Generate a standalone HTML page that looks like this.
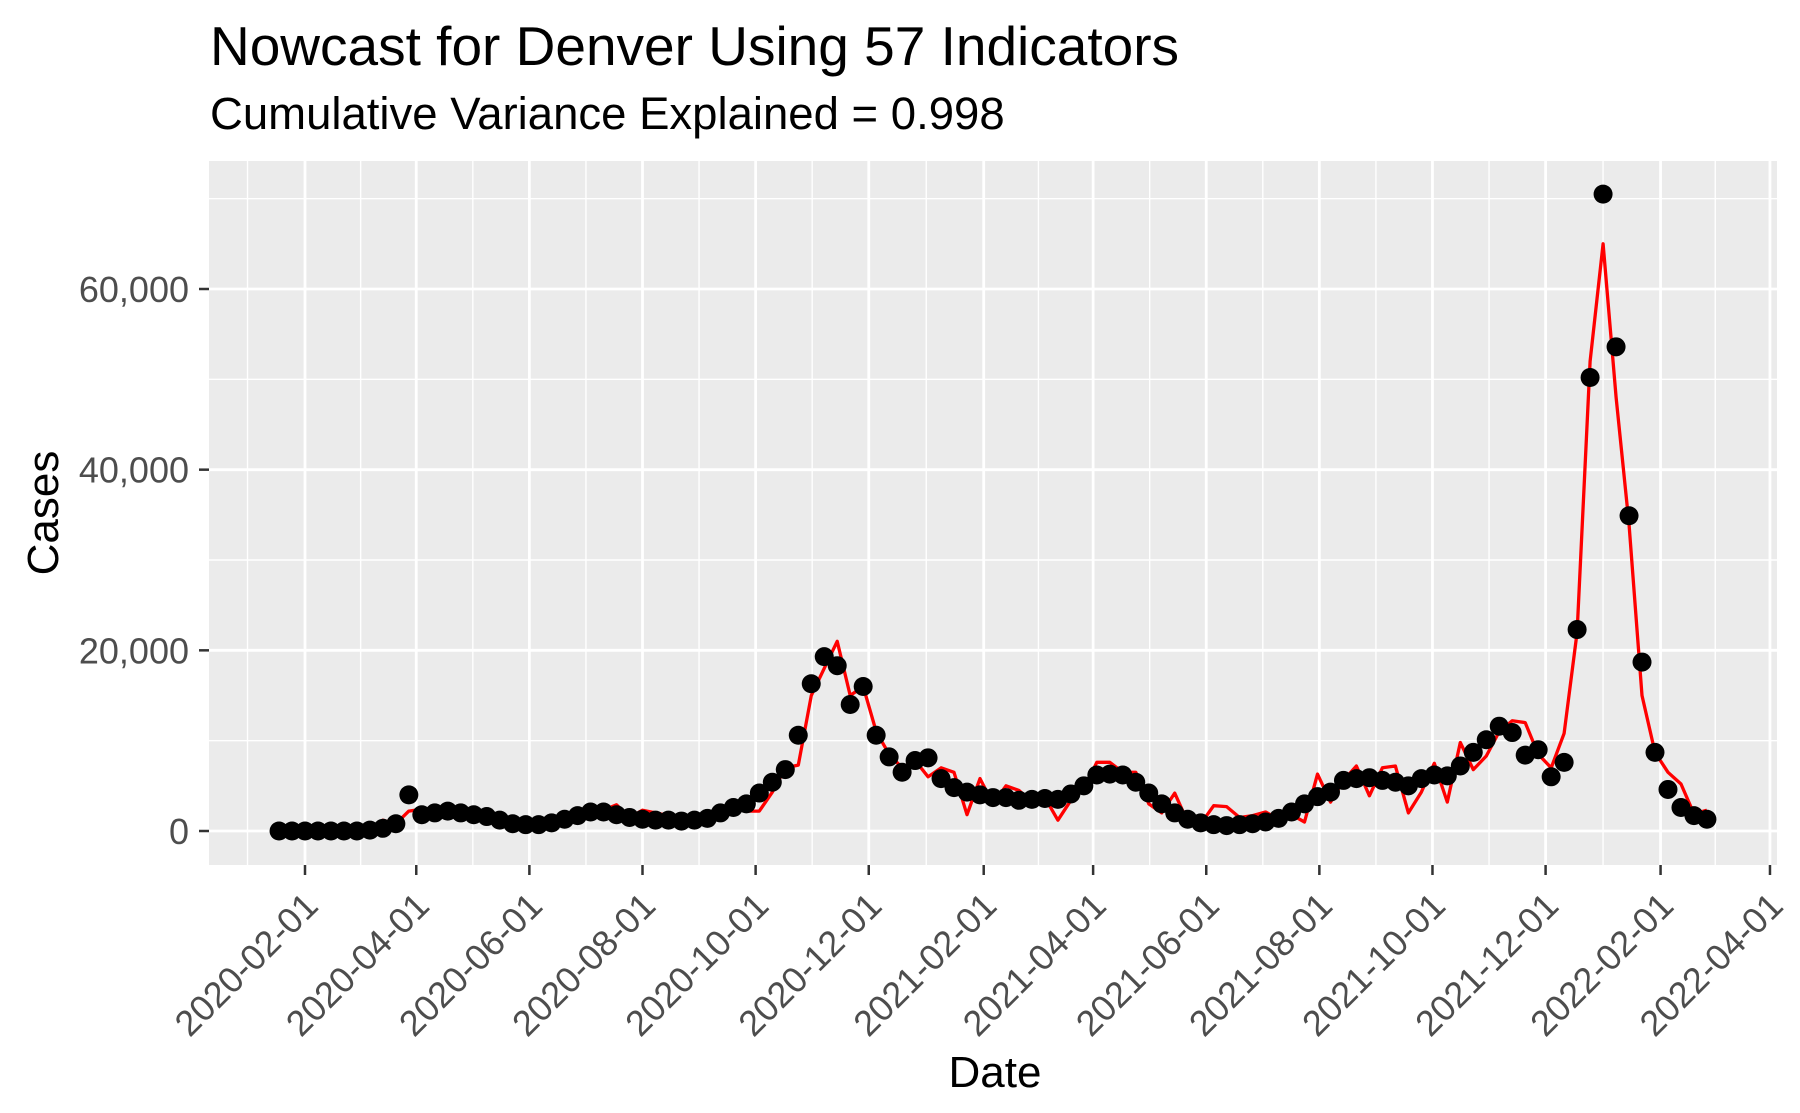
<!DOCTYPE html>
<html><head><meta charset="utf-8"><style>
html,body{margin:0;padding:0;background:#fff;}
svg{display:block;font-family:"Liberation Sans",Arial,sans-serif;}
</style></head><body>
<svg id="chart" width="1800" height="1113" viewBox="0 0 1800 1113" xmlns="http://www.w3.org/2000/svg">
<rect width="1800" height="1113" fill="#fff"/>
<text x="210" y="65" font-size="55" fill="#000">Nowcast for Denver Using 57 Indicators</text>
<text x="210" y="129" font-size="45.5" fill="#000">Cumulative Variance Explained = 0.998</text>
<rect x="209" y="161" width="1568" height="704" fill="#ebebeb"/>
<g id="grid"></g>
<g id="axes"></g>
<g id="series"></g>
<text transform="translate(58,513) rotate(-90)" text-anchor="middle" font-size="44" fill="#000">Cases</text>
<text x="995" y="1087" text-anchor="middle" font-size="44" fill="#000">Date</text>
</svg>
<script>
const startDate = "2020-01-18";
const observed = [0,0,0,0,0,0,0,100,300,800,4000,1800,2000,2200,2000,1800,1600,1200,800,700,700,900,1300,1700,2100,2100,1800,1500,1300,1200,1200,1100,1200,1400,2000,2600,3000,4200,5400,6800,10600,16300,19300,18300,14000,16000,10600,8200,6500,7800,8100,5800,4800,4300,4000,3700,3700,3400,3500,3600,3500,4100,5000,6200,6300,6200,5400,4200,3000,2000,1300,900,700,600,700,800,1000,1400,2100,3000,3800,4300,5600,5800,5900,5600,5400,5000,5800,6200,6100,7200,8700,10100,11600,10900,8400,9000,6000,7600,22300,50200,70500,53600,34900,18700,8700,4600,2600,1700,1300];
const nowcast = [0,0,0,0,0,0,0,300,1200,800,2200,2400,2000,2100,1900,1700,1600,1400,1200,900,800,1000,1400,1900,2200,2300,2900,1500,2300,2000,1700,1000,1300,1000,2000,2600,2200,2200,4300,7000,7300,15000,18000,21000,15000,16000,11000,8500,7000,7800,6000,7000,6500,1800,5800,3000,5000,4500,3200,3700,1200,3400,4600,7600,7600,6500,6500,3000,2000,4200,1000,800,2800,2700,1500,1700,2100,1300,1800,1000,6300,3200,5600,7200,3900,7000,7200,2000,4300,7500,3200,9800,6800,8300,11000,12200,12000,8500,7000,10800,22000,52000,65000,48000,34000,15000,8700,6500,5200,1900,2300];
const yTicks = [0,20000,40000,60000];
const yTickLabels = ["0","20,000","40,000","60,000"];
const xTickLabels = ["2020-02-01","2020-04-01","2020-06-01","2020-08-01","2020-10-01","2020-12-01","2021-02-01","2021-04-01","2021-06-01","2021-08-01","2021-10-01","2021-12-01","2022-02-01","2022-04-01"];

const NS="http://www.w3.org/2000/svg";
const L=209,R=1777,T=161,B=865;
const day0=Date.UTC(2020,1,1);
function dnum(s){const p=s.split("-");return (Date.UTC(+p[0],+p[1]-1,+p[2])-day0)/86400000;}
function xs(d){return 305+d*1.8544;}
function ys(v){return 831-v*(542/60000);}
function mk(tag,attrs,parent){const e=document.createElementNS(NS,tag);for(const k in attrs)e.setAttribute(k,attrs[k]);parent.appendChild(e);return e;}
const grid=document.getElementById("grid"),axes=document.getElementById("axes"),series=document.getElementById("series");
for(let v=-10000;v<=70000;v+=10000){
  const y=ys(v); if(y<T||y>B) continue;
  const major=v%20000===0;
  const g=mk("line",{x1:L,x2:R,y1:y,y2:y,stroke:"#fff","stroke-width":major?2.8:1.4},grid);
  
  
}
yTicks.forEach((v,i)=>{
  const y=ys(v);
  const t=mk("line",{x1:199,x2:209,y1:y,y2:y,stroke:"#333","stroke-width":2.5},axes);
  
  
  const tx=mk("text",{x:189,y:y+13,"text-anchor":"end","font-size":36,fill:"#4d4d4d"},axes);
  tx.textContent=yTickLabels[i];
  
  
});
const xd=xTickLabels.map(dnum);
xd.forEach((d,i)=>{
  const x=xs(d);
  const g=mk("line",{x1:x,x2:x,y1:T,y2:B,stroke:"#fff","stroke-width":2.8},grid);
  
  
  const mids=[];
  if(i===0) mids.push(d-31);
  if(i<xd.length-1) mids.push((d+xd[i+1])/2);
  mids.forEach(m=>{const xm=xs(m); if(xm<L||xm>R) return;
    const gm=mk("line",{x1:xm,x2:xm,y1:T,y2:B,stroke:"#fff","stroke-width":1.4},grid);
    
    
  });
  const t=mk("line",{x1:x,x2:x,y1:B,y2:B+10,stroke:"#333","stroke-width":2.5},axes);
  
  
  const tx=mk("text",{transform:`translate(${x+15},${B+43}) rotate(-45)`,"text-anchor":"end","font-size":36,fill:"#4d4d4d"},axes);
  tx.textContent=xTickLabels[i];
  
  
});
const s0=dnum(startDate);
function xi(i){return xs(s0+7*i);}
const pts=nowcast.map((v,i)=>xi(i).toFixed(1)+","+ys(v).toFixed(1)).join(" ");
const line=mk("polyline",{points:pts,fill:"none",stroke:"#ff0000","stroke-width":3.3,"stroke-linejoin":"round"},series);


observed.forEach((v,i)=>{
  const c=mk("circle",{cx:xi(i),cy:ys(v),r:9.5,fill:"#000"},series);
  
  
});
</script>
</body></html>
